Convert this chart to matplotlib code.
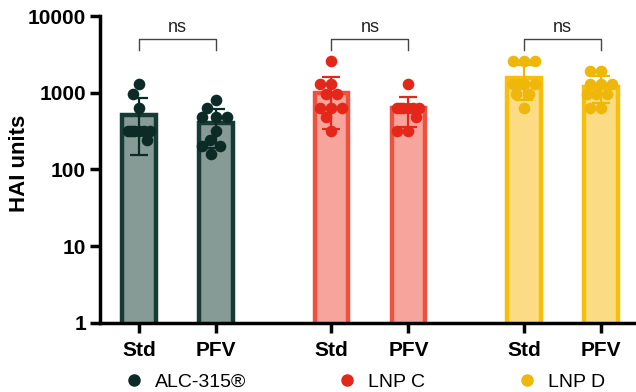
import numpy as np
import matplotlib.pyplot as plt
from matplotlib.lines import Line2D

plt.rcParams['font.family'] = ['Liberation Sans', 'DejaVu Sans']

# groups and conditions
formulations = ['ALC-315®', 'LNP C', 'LNP D']
conditions = ['Std', 'PFV']

# HAI titres per animal
alc_std = [1280, 960, 640, 320, 320, 320, 320, 320, 320, 240]
alc_pfv = [800, 640, 480, 480, 480, 320, 240, 200, 200, 160]
lnpc_std = [2560, 1280, 1280, 960, 960, 640, 640, 640, 480, 320]
lnpc_pfv = [1280, 640, 640, 640, 640, 640, 640, 480, 320, 320]
lnpd_std = [2560, 2560, 2560, 1280, 1280, 1280, 1280, 960, 960, 640]
lnpd_pfv = [1920, 1920, 1280, 1280, 1280, 960, 960, 960, 640, 640]

titres = [alc_std, alc_pfv, lnpc_std, lnpc_pfv, lnpd_std, lnpd_pfv]
sig_labels = ['ns', 'ns', 'ns']

y_ticks = [1, 10, 100, 1000, 10000]

# colours (edge, fill, dots) per formulation
edge_cols = ['#163b35', '#f0513f', '#f7bf0a']
fill_cols = ['#879b96', '#f7a59c', '#fbdc84']
dot_cols = ['#0c2b26', '#e3281a', '#efb70a']

xpos = [0, 1, 2.5, 3.5, 5, 6]

fig = plt.figure(figsize=(6.36, 3.92), dpi=100)
ax = fig.add_axes([100 / 636, 1 - 322.7 / 392, 536 / 636, (322.7 - 16) / 392])
ax.set_yscale('log')
ax.set_ylim(1, 10000)
ax.set_xlim(-0.506, 6.455)


def swarm(x, vals, dot_px=11.0, half_w_px=14.0):
    # simple Prism-like scatter: keep dots inside the bar, nudge to avoid overlap
    pts = ax.transData.transform(np.column_stack([np.full(len(vals), x), vals]))
    ys = pts[:, 1]
    order = np.argsort(-np.asarray(vals), kind='stable')
    cands = np.linspace(-half_w_px, half_w_px, 29)
    cands = cands[np.argsort(np.abs(cands), kind='stable')]
    placed = []
    offs = np.zeros(len(vals))
    for i in order:
        best, best_gap = 0.0, -1.0
        for c in cands:
            gap = min([np.hypot(c - px, ys[i] - py) for px, py in placed], default=np.inf)
            if gap >= dot_px:
                best = c
                break
            if gap > best_gap:
                best, best_gap = c, gap
        placed.append((best, ys[i]))
        offs[i] = best
    px_per_unit = ax.transData.transform((1, 1))[0] - ax.transData.transform((0, 1))[0]
    return x + offs / px_per_unit


for k, vals in enumerate(titres):
    g = k // 2
    vals = np.array(vals, dtype=float)
    m = vals.mean()
    s = vals.std(ddof=1)
    ax.bar(xpos[k], m, width=0.44, color=fill_cols[g], edgecolor=edge_cols[g],
           linewidth=3.2, zorder=2)
    ax.errorbar(xpos[k], m, yerr=s, color=dot_cols[g], elinewidth=1.6,
                capsize=6.5, capthick=1.6, zorder=3)
    ax.scatter(swarm(xpos[k], vals), vals, s=70, color=dot_cols[g],
               linewidths=0, zorder=4)

# significance brackets
for g in range(3):
    x0, x1 = xpos[2 * g], xpos[2 * g + 1]
    ax.plot([x0, x0, x1, x1], [3650, 5000, 5000, 3650], color='#444444', lw=1,
            zorder=5)
    ax.text((x0 + x1) / 2, 6200, sig_labels[g], ha='center', va='baseline',
            fontsize=13, color='#222222')

ax.spines['top'].set_visible(False)
ax.spines['right'].set_visible(False)
ax.spines['left'].set_linewidth(2.5)
ax.spines['bottom'].set_linewidth(2.5)

ax.set_yticks(y_ticks)
ax.set_yticklabels([str(t) for t in y_ticks])
ax.minorticks_off()
ax.set_xticks(xpos)
ax.set_xticklabels(conditions * 3)
ax.tick_params(axis='both', length=7, width=2.5, labelsize=15)
ax.tick_params(axis='y', pad=3)
ax.tick_params(axis='x', pad=6)
for lab in ax.get_xticklabels() + ax.get_yticklabels():
    lab.set_fontweight('bold')

ax.set_ylabel('HAI units', fontsize=16, fontweight='bold')
ax.yaxis.set_label_coords(-0.131, 0.52)

handles = [Line2D([], [], marker='o', ls='none', color=c, markersize=8)
           for c in dot_cols]
fig.legend(handles, formulations, loc='center left', bbox_to_anchor=(0.1955, 0.025),
           ncol=3, frameon=False, fontsize=14, handlelength=1.0, handletextpad=0.58,
           columnspacing=4.7, borderpad=0, borderaxespad=0)

fig.savefig('out.png', dpi=100)
